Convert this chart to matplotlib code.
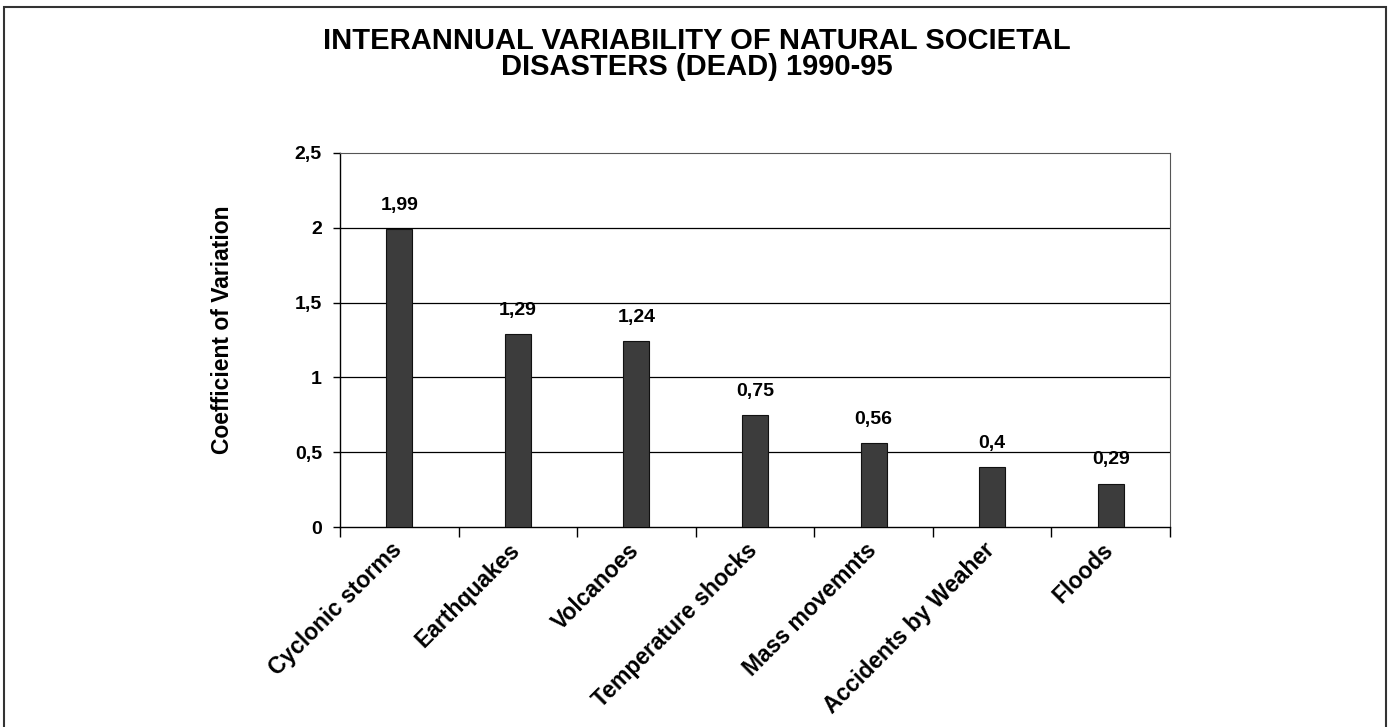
import matplotlib
matplotlib.use("Agg")
import matplotlib.pyplot as plt
from matplotlib.patches import Rectangle
from matplotlib.transforms import ScaledTranslation
import numpy as np

categories = ["Cyclonic storms", "Earthquakes", "Volcanoes", "Temperature shocks",
              "Mass movemnts", "Accidents by Weaher", "Floods"]
values = [1.99, 1.29, 1.24, 0.75, 0.56, 0.40, 0.29]
value_labels = ["1,99", "1,29", "1,24", "0,75", "0,56", "0,4", "0,29"]
yticks = [0, 0.5, 1, 1.5, 2, 2.5]
ytick_labels = ["0", "0,5", "1", "1,5", "2", "2,5"]

plt.rcParams['font.family'] = ['Liberation Sans', 'DejaVu Sans']

fig = plt.figure(figsize=(13.93, 7.27), dpi=100)
W, H = 1393, 727
ax = fig.add_axes([340 / W, 1 - 527 / H, (1170 - 340) / W, (527 - 153) / H])

# outer frame
fig.patches.append(Rectangle((4 / W, -0.05), (1386 - 4) / W, 1 - 7 / H + 0.05,
                             transform=fig.transFigure, fill=False,
                             edgecolor='#333333', linewidth=1.5, zorder=0))

x = np.arange(len(categories))
ax.bar(x, values, width=0.22, color='#3c3c3c', edgecolor='#111111',
       linewidth=0.8, zorder=3)

for xi, v, lab in zip(x, values, value_labels):
    ax.annotate(lab, (xi, v), xytext=(0, 11), textcoords='offset points',
                ha='center', va='bottom', fontsize=14, fontweight='bold')

ax.set_xlim(-0.5, len(categories) - 0.5)
ax.set_ylim(0, 2.5)
ax.set_yticks(yticks)
ax.set_yticklabels(ytick_labels, fontsize=14, fontweight='bold')
for yv in yticks[1:-1]:
    ax.axhline(yv, color='black', linewidth=0.9, zorder=1)

ax.set_xticks(x)
ax.set_xticklabels(categories, rotation=45, ha='right', va='center',
                   rotation_mode='anchor', fontsize=16.5, fontweight='bold')
ax.tick_params(axis='x', which='major', length=0, pad=14)
offset = ScaledTranslation(-1 / 100, 0, fig.dpi_scale_trans)
for lbl in ax.get_xticklabels():
    lbl.set_transform(lbl.get_transform() + offset)
ax.set_xticks(np.arange(len(categories) + 1) - 0.5, minor=True)
ax.tick_params(axis='x', which='minor', length=7, width=1, direction='out')
ax.tick_params(axis='y', length=5, width=1, direction='out', pad=8)

ax.spines['left'].set_linewidth(1.0)
ax.spines['bottom'].set_linewidth(1.0)
ax.spines['top'].set_linestyle((0, (1, 1)))
ax.spines['top'].set_color('#555555')
ax.spines['right'].set_linestyle((0, (1, 1)))
ax.spines['right'].set_color('#555555')

ax.set_ylabel("Coefficient of Variation", fontsize=16.5, fontweight='bold')
ax.yaxis.set_label_coords(-(340 - 234) / 830, (527 - 330) / 374)

fig.text(0.5, 1 - 41 / H, "INTERANNUAL VARIABILITY OF NATURAL SOCIETAL",
         ha='center', va='center', fontsize=21, fontweight='bold')
fig.text(0.5, 1 - 67 / H, "DISASTERS (DEAD) 1990-95",
         ha='center', va='center', fontsize=21, fontweight='bold')

fig.savefig("out.png", dpi=100, facecolor='white')
